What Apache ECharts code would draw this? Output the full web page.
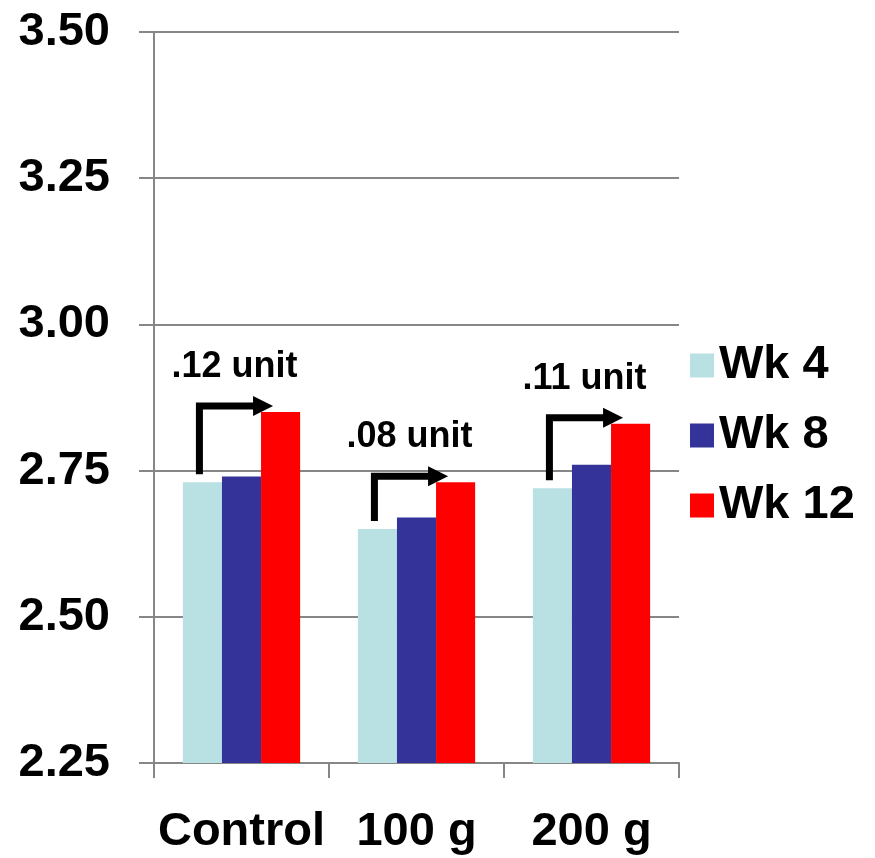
<!DOCTYPE html>
<html>
<head>
<meta charset="utf-8">
<script src="https://cdn.jsdelivr.net/npm/echarts@6/dist/echarts.min.js"></script>
<style>
  html, body { margin: 0; padding: 0; background: #fff; }
  #chart { width: 875px; height: 858px; }
</style>
</head>
<body>
<div id="chart"></div>
<script>
// Treatment groups and weekly measurements
const categories = ['Control', '100 g', '200 g'];
const seriesNames = ['Wk 4', 'Wk 8', 'Wk 12'];
const wk4 = [2.73, 2.65, 2.72];
const wk8 = [2.74, 2.67, 2.76];
const wk12 = [2.85, 2.73, 2.83];
const yTicks = { min: 2.25, max: 3.50, interval: 0.25 };

const FONT = '"Liberation Sans", Arial, sans-serif';
const colors = ['#B9E0E3', '#333399', '#FF0000'];
const CATEGORY_GAP = 0.33;

// Change from week 4 to week 12, shown as an elbow arrow per group
const changeData = categories.map((c, i) => [i, wk4[i], wk12[i]]);
function changeLabel(a, b) {
  return (b - a).toFixed(2).replace(/^0/, '') + ' unit';
}

const chart = echarts.init(document.getElementById('chart'), null, { renderer: 'canvas' });

chart.setOption({
  animation: false,
  backgroundColor: '#fff',
  grid: { left: 154, right: 196, top: 32, bottom: 95, containLabel: false },
  legend: {
    orient: 'vertical',
    left: 685,
    top: 337,
    icon: 'rect',
    itemWidth: 24,
    itemHeight: 24,
    itemGap: 23,
    itemTextGap: 12,
    selectedMode: false,
    data: seriesNames,
    textStyle: { fontFamily: FONT, fontWeight: 'bold', fontSize: 47, color: '#000', lineHeight: 46 }
  },
  xAxis: {
    type: 'category',
    data: categories,
    axisLine: { show: true, lineStyle: { color: '#868686', width: 2 } },
    axisTick: { show: true, length: 15, alignWithLabel: false, lineStyle: { color: '#868686', width: 2 } },
    axisLabel: {
      fontFamily: FONT, fontWeight: 'bold', fontSize: 47, color: '#000', margin: 46,
      interval: 0, hideOverlap: false
    },
    splitLine: { show: false }
  },
  yAxis: {
    type: 'value',
    min: yTicks.min,
    max: yTicks.max,
    interval: yTicks.interval,
    axisLine: { show: true, lineStyle: { color: '#868686', width: 2 } },
    axisTick: { show: true, length: 15, lineStyle: { color: '#868686', width: 2 } },
    axisLabel: {
      fontFamily: FONT, fontWeight: 'bold', fontSize: 47, color: '#000', margin: 44,
      formatter: v => v.toFixed(2)
    },
    splitLine: { show: true, lineStyle: { color: '#868686', width: 2 } }
  },
  series: [
    {
      name: seriesNames[0], type: 'bar', data: wk4,
      itemStyle: { color: colors[0] }, barGap: '0%', barCategoryGap: (CATEGORY_GAP * 100) + '%'
    },
    {
      name: seriesNames[1], type: 'bar', data: wk8,
      itemStyle: { color: colors[1] }, barGap: '0%', barCategoryGap: (CATEGORY_GAP * 100) + '%'
    },
    {
      name: seriesNames[2], type: 'bar', data: wk12,
      itemStyle: { color: colors[2] }, barGap: '0%', barCategoryGap: (CATEGORY_GAP * 100) + '%'
    },
    {
      name: 'change',
      type: 'custom',
      data: changeData,
      encode: { x: 0, y: [1, 2] },
      z: 10,
      silent: true,
      renderItem: function (params, api) {
        const cat = api.value(0);
        const v4 = api.value(1);
        const v12 = api.value(2);
        const p4 = api.coord([cat, v4]);
        const p12 = api.coord([cat, v12]);
        const band = api.size([1, 0])[0];
        const barW = band * (1 - CATEGORY_GAP) / 3;
        const cx = p4[0];
        const x0 = cx - barW - 3;
        const yStart = p4[1] - 8;
        const yTop = p12[1] - 6;
        const tipX = cx + barW / 2 + 12;
        const headLen = 20;
        return {
          type: 'group',
          children: [
            {
              type: 'polyline',
              shape: { points: [[x0, yStart], [x0, yTop], [tipX - headLen + 2, yTop]] },
              style: { stroke: '#000', lineWidth: 7, fill: null, lineJoin: 'miter', lineCap: 'butt' }
            },
            {
              type: 'polygon',
              shape: { points: [[tipX - headLen, yTop - 10], [tipX, yTop], [tipX - headLen, yTop + 10]] },
              style: { fill: '#000' }
            },
            {
              type: 'text',
              style: {
                x: cx - 7,
                y: yTop - 39,
                text: changeLabel(v4, v12),
                fontFamily: FONT,
                fontWeight: 'bold',
                fontSize: 36,
                fill: '#000',
                align: 'center',
                verticalAlign: 'middle'
              }
            }
          ]
        };
      }
    }
  ]
});
</script>
</body>
</html>
